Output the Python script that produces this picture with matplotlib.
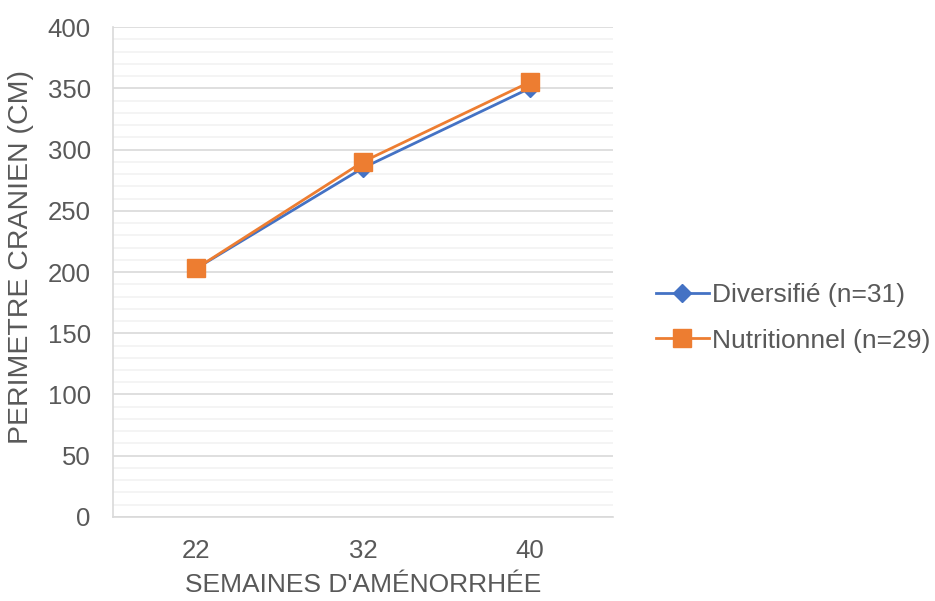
import matplotlib
matplotlib.use("Agg")
import matplotlib.pyplot as plt
from matplotlib.ticker import MultipleLocator

categories = ["22", "32", "40"]
diversifie = [203, 285, 350]
nutritionnel = [203, 290, 355]
series_labels = ["Diversifié (n=31)", "Nutritionnel (n=29)"]

plt.rcParams['font.family'] = ['Liberation Sans', 'DejaVu Sans']
txt = '#595959'

fig = plt.figure(figsize=(9.35, 6.01), dpi=100)
ax = fig.add_axes([0.1209, 0.1398, 0.5347, 0.8152])

x = list(range(len(categories)))
ax.plot(x, diversifie, color='#4472C4', lw=2, marker='D', ms=9, label=series_labels[0], zorder=3)
ax.plot(x, nutritionnel, color='#ED7D31', lw=2, marker='s', ms=12.5, label=series_labels[1], zorder=4)

ax.set_xlim(-0.5, len(categories) - 0.5)
ax.set_ylim(0, 400)
ax.set_xticks(x)
ax.set_xticklabels(categories)
ax.yaxis.set_major_locator(MultipleLocator(50))
ax.yaxis.set_minor_locator(MultipleLocator(10))
ax.grid(which='major', axis='y', color='#D9D9D9', lw=1.2)
ax.grid(which='minor', axis='y', color='#F2F2F2', lw=1.2)
ax.set_axisbelow(True)
for s in ['top', 'right']:
    ax.spines[s].set_visible(False)
ax.spines['left'].set_color('#D9D9D9')
ax.spines['bottom'].set_color('#D9D9D9')
ax.spines['left'].set_linewidth(1.2)
ax.spines['bottom'].set_linewidth(1.2)
ax.tick_params(which='both', length=0, labelsize=18.5, colors=txt)
ax.tick_params(axis='y', pad=16)
ax.tick_params(axis='x', pad=16)

ax.set_xlabel("SEMAINES D'AMÉNORRHÉE", fontsize=19, color=txt)
ax.xaxis.label.set_va('center')
ax.xaxis.set_label_coords(0.5, (517 - 585) / 490)
ax.set_ylabel("PERIMETRE CRANIEN (CM)", fontsize=20.5, color=txt)
ax.yaxis.label.set_va('center')
ax.yaxis.set_label_coords((21 - 113) / 500, (517 - 257) / 490)

ax.legend(loc='center left', bbox_to_anchor=((632 - 113) / 500, (517 - 318) / 490), frameon=False,
          fontsize=19, labelcolor=txt, handlelength=2.0, handletextpad=0.15, labelspacing=0.8)

fig.savefig('out.png', dpi=100)
